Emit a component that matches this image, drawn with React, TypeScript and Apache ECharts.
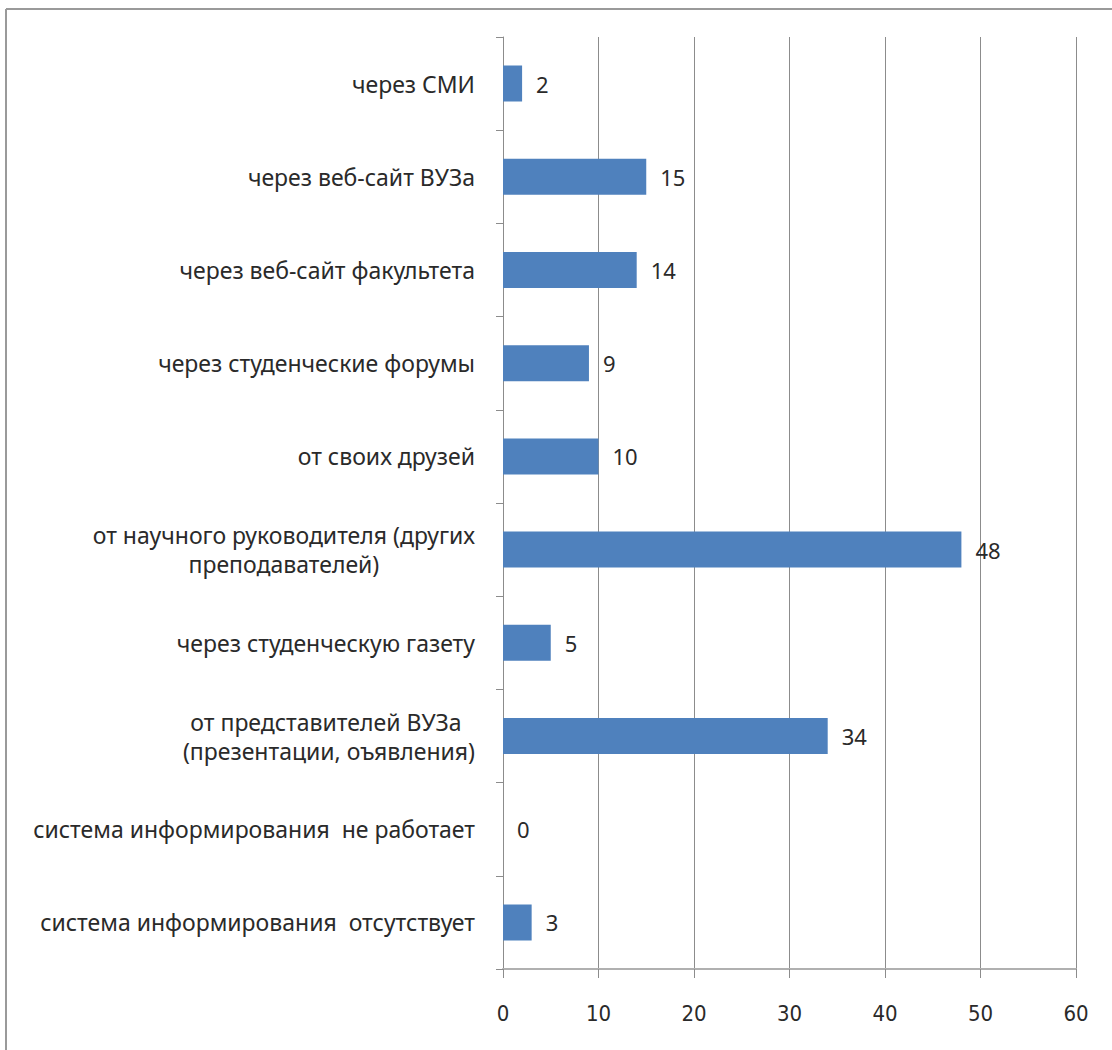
import React, { useEffect, useRef } from "react";
import * as echarts from "echarts";

const categories: string[] = [
  "через СМИ",
  "через веб-сайт ВУЗа",
  "через веб-сайт факультета",
  "через студенческие форумы",
  "от своих друзей",
  "от научного руководителя (других\nпреподавателей)",
  "через студенческую газету",
  "от представителей ВУЗа \n(презентации, оъявления)",
  "система информирования  не работает",
  "система информирования  отсутствует",
];
const values: number[] = [2, 15, 14, 9, 10, 48, 5, 34, 0, 3];
const xTicks: number[] = [0, 10, 20, 30, 40, 50, 60];

const FONT = "Noto Sans";
const NARROW = "'Liberation Sans Narrow', 'DejaVu Sans Condensed', 'Noto Sans'";

export default function App() {
  const ref = useRef<HTMLDivElement>(null);
  useEffect(() => {
    if (!ref.current) return;
    const chart = echarts.init(ref.current, undefined, { renderer: "svg" });
    chart.setOption({
      animation: false,
      backgroundColor: "#ffffff",
      textStyle: { fontFamily: FONT },
      graphic: [
        { type: "line", shape: { x1: 6, y1: 9, x2: 6, y2: 1050 }, style: { stroke: "#9a9a9a", lineWidth: 2 } },
        { type: "line", shape: { x1: 6, y1: 9, x2: 1112, y2: 9 }, style: { stroke: "#9a9a9a", lineWidth: 2 } },
      ],
      grid: { left: 503, right: 36, top: 37, bottom: 81, containLabel: false },
      xAxis: {
        type: "value",
        min: xTicks[0],
        max: xTicks[xTicks.length - 1],
        interval: 10,
        axisLine: { show: true, lineStyle: { color: "#b0b0b0", width: 2 } },
        axisTick: { show: true, length: 9, lineStyle: { color: "#8c8c8c", width: 1 } },
        splitLine: { show: true, lineStyle: { color: "#8c8c8c", width: 1 } },
        axisLabel: { color: "#2a2a2a", fontSize: 22, fontFamily: NARROW, margin: 33 },
      },
      yAxis: {
        type: "category",
        inverse: true,
        data: categories,
        axisLine: { show: true, lineStyle: { color: "#8c8c8c", width: 1 } },
        axisTick: { show: true, length: 7, lineStyle: { color: "#8c8c8c" } },
        splitLine: { show: false },
        axisLabel: {
          margin: 28,
          formatter: (v: string) => v.split("\n").map((s) => `{a|${s}}`).join("\n"),
          rich: { a: { align: "center", color: "#2a2a2a", fontSize: 23, fontFamily: FONT, lineHeight: 29 } },
        },
      },
      series: [
        {
          type: "bar",
          data: values,
          barWidth: 36,
          itemStyle: { color: "#4F81BD" },
          label: { show: true, position: "right", distance: 14, color: "#2a2a2a", fontSize: 22, fontFamily: FONT },
        },
      ],
    });
    return () => chart.dispose();
  }, []);
  return <div ref={ref} style={{ position: "absolute", left: 0, top: 0, width: 1112, height: 1050 }} />;
}
